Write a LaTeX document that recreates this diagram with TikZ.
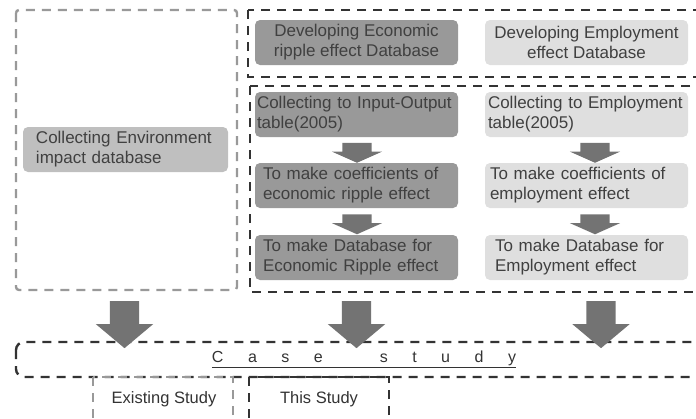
\documentclass[tikz,border=0pt]{standalone}
\usepackage{fontspec}
\setmainfont{Liberation Sans}
\usetikzlibrary{shapes.arrows}

\newcommand{\lsp}{\hspace{24.5pt}}

\begin{document}
\begin{tikzpicture}
	[x=1pt,y=-1pt,
	 box/.style={rounded corners=5pt,minimum width=203pt,minimum height=45pt,
		inner sep=0pt,text=black!75,font=\fontsize{17}{20}\selectfont},
	 darkbox/.style={box,fill=gray!80},
	 lightbox/.style={box,fill=gray!25},
	 leftbox/.style={text width=203pt,align=left},
	 midbox/.style={align=center},
	 frame/.style={line width=2.4pt,black!80,dash pattern=on 9pt off 7pt},
	 grayframe/.style={frame,black!40},
	 bigarrow/.style={single arrow,fill=black!55,rotate=-90,inner xsep=0pt,
		inner ysep=14.5pt,minimum height=47pt,single arrow head extend=14pt,
		single arrow tip angle=100},
	 smallarrow/.style={bigarrow,minimum height=20pt,
		single arrow head extend=10.5pt,single arrow tip angle=132}]
\useasboundingbox (0,0) rectangle (696,418);
% frames
\draw[grayframe,rounded corners=3pt] (16,10) rectangle (237,290);
\draw[frame] (248,10) rectangle (720,77);
\draw[frame] (250,86) rectangle (720,292);
\draw[frame,rounded corners=8pt] (16,342) rectangle (720,377);
\draw[grayframe] (93,377) rectangle (233,430);
\draw[frame] (249,377) rectangle (389,430);
% database boxes
\node[darkbox,midbox] (devEco) at (356.5,42.5) {Developing Economic\\ripple effect Database};
\node[lightbox,midbox] (devEmp) at (586.5,42.5) {Developing Employment\\effect Database};
\node[box,fill=gray!50,minimum width=205pt,text width=205pt,align=left] (env) at (125.5,149.5)
	{\hspace{13pt}Collecting Environment\\\hspace{13pt}impact database};
\node[darkbox,leftbox] (colIO) at (356.5,114.5) {\hspace{2pt}Collecting to Input-Output\\\hspace{2pt}table(2005)};
\node[lightbox,leftbox] (colEmp) at (586.5,114.5) {\hspace{3pt}Collecting to Employment\\\hspace{3pt}table(2005)};
\node[darkbox,leftbox] (coefEco) at (356.5,185.5) {\hspace{8pt}To make coefficients of\\\hspace{8pt}economic ripple effect};
\node[lightbox,leftbox] (coefEmp) at (586.5,185.5) {\hspace{5pt}To make coefficients of\\\hspace{5pt}employment effect};
\node[darkbox,leftbox] (dbEco) at (356.5,257.5) {\hspace{8pt}To make Database for\\\hspace{8pt}Economic Ripple effect};
\node[lightbox,leftbox] (dbEmp) at (586.5,257.5) {\hspace{10pt}To make Database for\\\hspace{10pt}Employment effect};
% arrows
\foreach \x/\n in {357/eco,595/emp}
{
\node[smallarrow] (sa1\n) at (\x,149.5) {};
\node[smallarrow] (sa2\n) at (\x,221) {};
}
\node[bigarrow] (ar1) at (124.5,318.5) {};
\node[bigarrow] (ar2) at (356.5,318.5) {};
\node[bigarrow] (ar3) at (601,318.5) {};
% case study
\node[text=black!80,font=\fontsize{16}{18}\selectfont] (cs) at (364,359)
	{\underline{C\lsp a\lsp s\lsp e\lsp\lsp\hspace{8pt}s\lsp t\lsp u\lsp d\lsp y}};
\node[text=black!80,font=\fontsize{16.5}{18}\selectfont] (exist) at (164,399) {Existing Study};
\node[text=black!80,font=\fontsize{16.5}{18}\selectfont] (this) at (319,399) {This Study};
\end{tikzpicture}
\end{document}
